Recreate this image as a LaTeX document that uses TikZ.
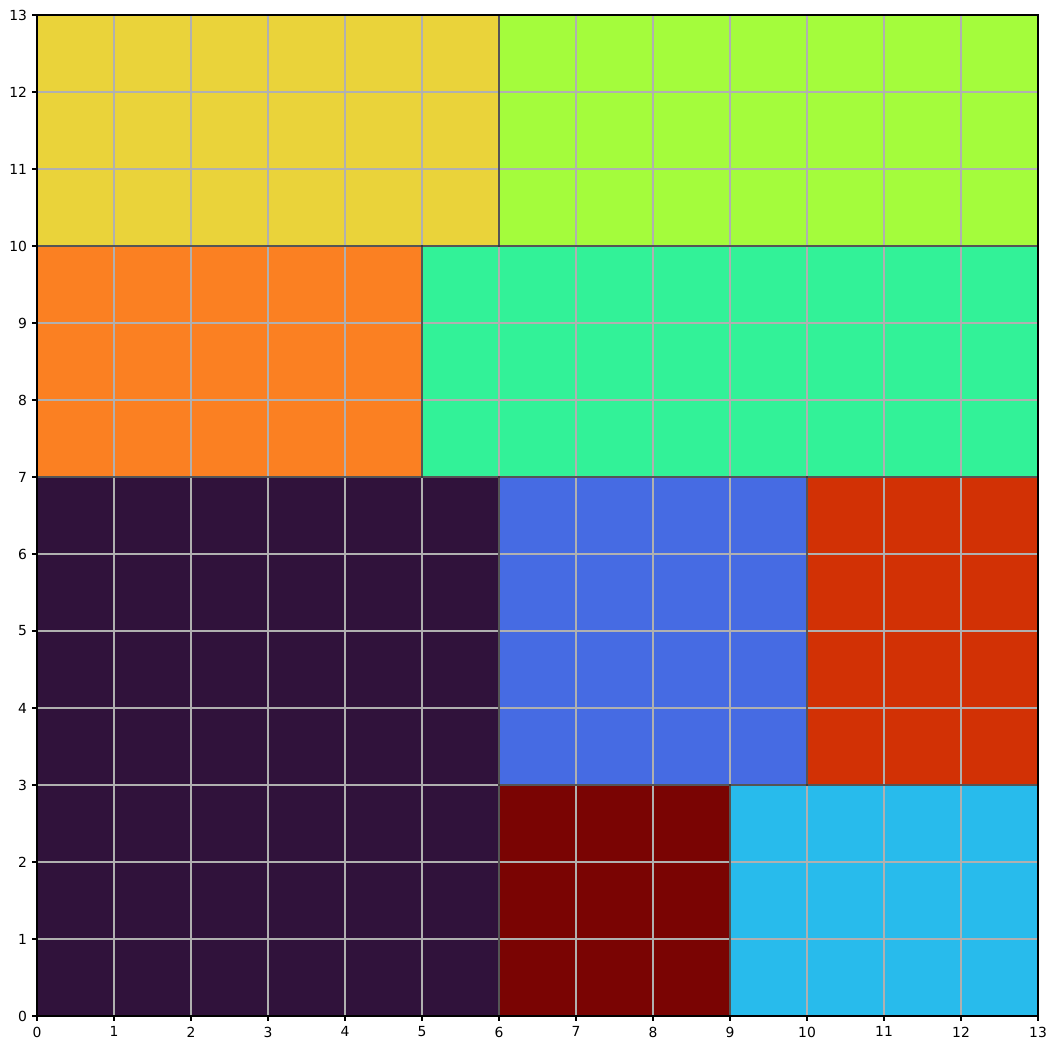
\documentclass[tikz,border=0pt]{standalone}
\usepackage{fontspec}
\setmainfont{DejaVu Sans}
\definecolor{cyellow}{RGB}{234,211,58}
\definecolor{cgreen}{RGB}{164,252,60}
\definecolor{corange}{RGB}{251,128,34}
\definecolor{cteal}{RGB}{50,242,152}
\definecolor{cpurple}{RGB}{48,18,59}
\definecolor{cblue}{RGB}{70,107,227}
\definecolor{cred}{RGB}{210,49,5}
\definecolor{cdarkred}{RGB}{122,4,3}
\definecolor{clightblue}{RGB}{40,187,236}
\definecolor{gridgray}{RGB}{176,176,176}
\begin{document}
\begin{tikzpicture}[x=55.44pt,y=55.44pt,
  cedge/.style={draw=black,draw opacity=0.3,line width=1pt},
  gridline/.style={draw=gridgray,line width=0.8pt},
  spine/.style={draw=black,line width=0.8pt},
  tick/.style={draw=black,line width=0.8pt},
  ticklabel/.style={inner sep=0pt,font=\fontsize{10}{12}\selectfont}]
\useasboundingbox (-0.4805,-0.4416) rectangle (13.2468,13.1948);
% filled regions
\fill[cyellow] (0,10) rectangle (6,13);
\fill[cgreen] (6,10) rectangle (13,13);
\fill[corange] (0,7) rectangle (5,10);
\fill[cteal] (5,7) rectangle (13,10);
\fill[cpurple] (0,0) rectangle (6,7);
\fill[cblue] (6,3) rectangle (10,7);
\fill[cred] (10,3) rectangle (13,7);
\fill[cdarkred] (6,0) rectangle (9,3);
\fill[clightblue] (9,0) rectangle (13,3);
% grid
\foreach \i in {1,...,12} {
  \draw[gridline] (\i,0) -- (\i,13);
  \draw[gridline] (0,\i) -- (13,\i);
}
% region edges
\begin{scope}
\clip (0,0) rectangle (13,13);
\draw[cedge] (0,10) rectangle (6,13);
\draw[cedge] (6,10) rectangle (13,13);
\draw[cedge] (0,7) rectangle (5,10);
\draw[cedge] (5,7) rectangle (13,10);
\draw[cedge] (0,0) rectangle (6,7);
\draw[cedge] (6,3) rectangle (10,7);
\draw[cedge] (10,3) rectangle (13,7);
\draw[cedge] (6,0) rectangle (9,3);
\draw[cedge] (9,0) rectangle (13,3);
\end{scope}
% spines
\draw[spine] (0,0) rectangle (13,13);
% ticks and labels
\foreach \i in {0,...,13} {
  \draw[tick] (\i,0) -- ++(0,-3.5pt);
  \node[ticklabel,anchor=north] (xl\i) at ([yshift=-7.5pt]\i,0) {\i};
  \draw[tick] (0,\i) -- ++(-3.5pt,0);
  \node[ticklabel,anchor=east] (yl\i) at ([xshift=-7pt]0,\i) {\i};
}
\end{tikzpicture}
\end{document}
